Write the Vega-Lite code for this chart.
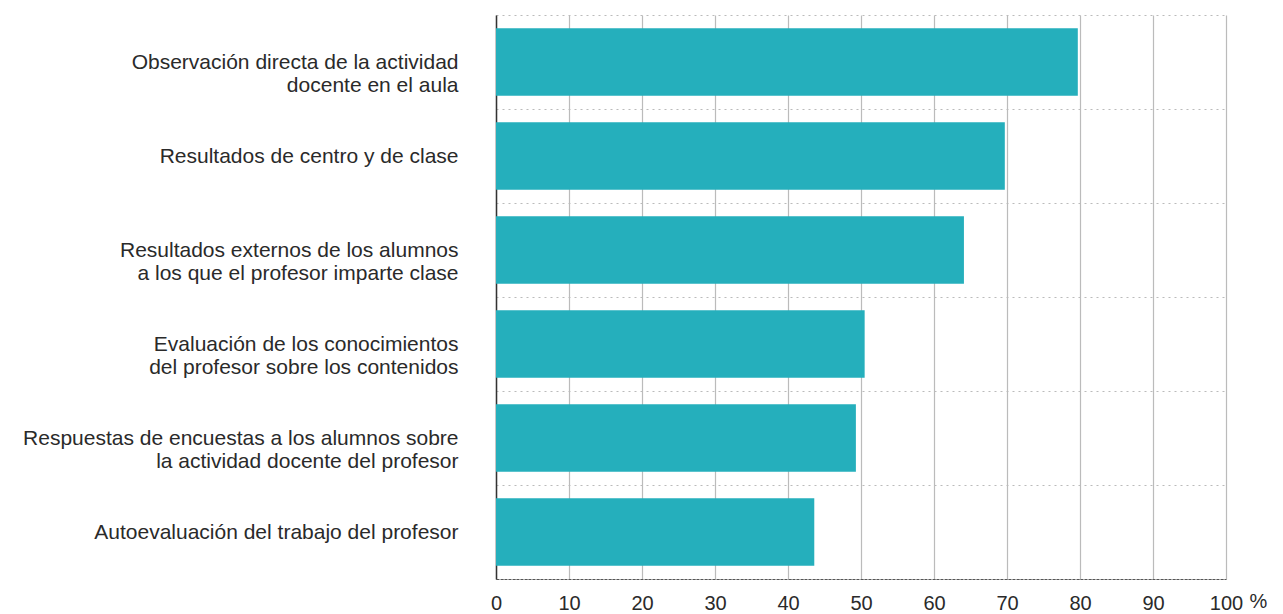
{
  "$schema": "https://vega.github.io/schema/vega-lite/v6.json",
  "width": 730,
  "height": 564,
  "autosize": "none",
  "padding": {"left": 496, "top": 15, "right": 57, "bottom": 35},
  "background": "white",
  "config": {"view": {"stroke": null}, "font": "Liberation Sans"},
  "data": {
    "values": [
      {"criterio": "Observación directa de la actividad|docente en el aula", "pct": 79.7},
      {"criterio": "Resultados de centro y de clase", "pct": 69.7},
      {"criterio": "Resultados externos de los alumnos|a los que el profesor imparte clase", "pct": 64.1},
      {"criterio": "Evaluación de los conocimientos|del profesor sobre los contenidos", "pct": 50.5},
      {"criterio": "Respuestas de encuestas a los alumnos sobre|la actividad docente del profesor", "pct": 49.3},
      {"criterio": "Autoevaluación del trabajo del profesor", "pct": 43.6}
    ]
  },
  "mark": {"type": "bar", "color": "#25afbc", "height": {"band": 0.72}},
  "encoding": {
    "y": {
      "field": "criterio",
      "type": "nominal",
      "sort": null,
      "scale": {"paddingInner": 0, "paddingOuter": 0},
      "axis": {
        "title": null,
        "labelExpr": "split(datum.label, '|')",
        "labelFontSize": 21,
        "labelLineHeight": 23,
        "labelColor": "#2a2a2a",
        "labelPadding": 38,
        "labelLimit": 500,
        "ticks": false,
        "tickBand": "extent",
        "domain": true,
        "domainColor": "#333333",
        "domainWidth": 1.5,
        "grid": true,
        "gridColor": "#bbbbbb",
        "gridDash": [2, 4],
        "gridWidth": 1.2
      }
    },
    "x": {
      "field": "pct",
      "type": "quantitative",
      "scale": {"domain": [0, 100], "nice": false},
      "axis": {
        "values": [0, 10, 20, 30, 40, 50, 60, 70, 80, 90, 100],
        "title": "%",
        "titleFontSize": 20,
        "titleFontWeight": "normal",
        "titleColor": "#2a2a2a",
        "titleAngle": 0,
        "titleX": 762,
        "titleY": 22,
        "titleAlign": "center",
        "titleBaseline": "middle",
        "labelFontSize": 20,
        "labelColor": "#2a2a2a",
        "labelPadding": 14,
        "labelFlush": false,
        "ticks": false,
        "domain": true,
        "domainColor": "#555555",
        "domainDash": [3, 1],
        "grid": true,
        "gridColor": "#bbbbbb",
        "gridWidth": 1.2
      }
    }
  }
}
